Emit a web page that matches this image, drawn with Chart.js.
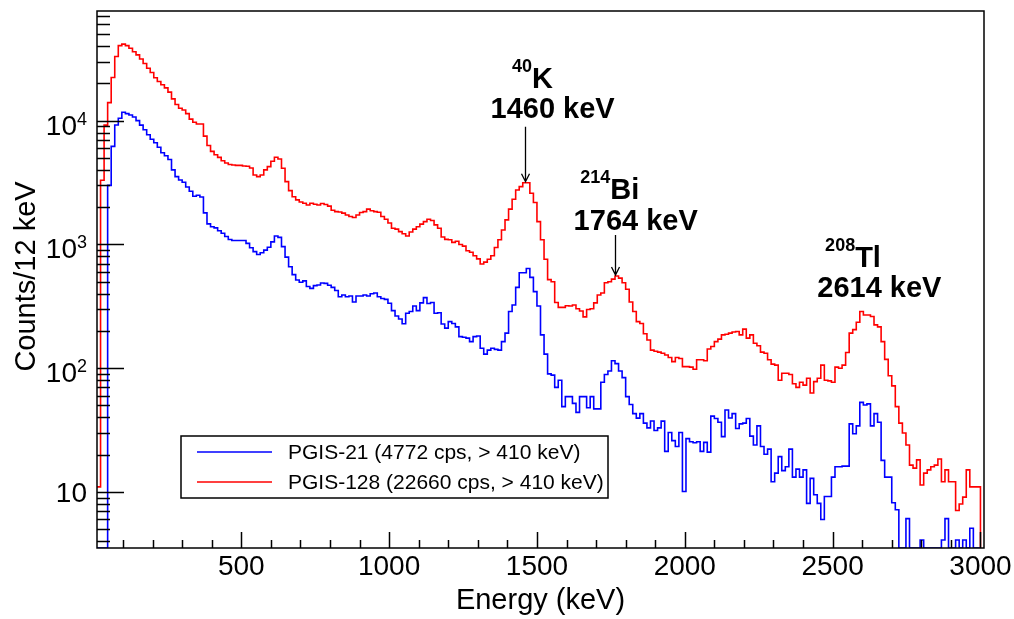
<!DOCTYPE html>
<html>
<head>
<meta charset="utf-8">
<title>PGIS gamma spectra</title>
<script src="https://cdn.jsdelivr.net/npm/chart.js@4.4.0/dist/chart.umd.min.js"></script>
<style>
  html, body { margin: 0; padding: 0; background: #fff; }
  #wrap { position: relative; width: 1014px; height: 619px; }
</style>
</head>
<body>
<div id="wrap"><canvas id="spectrum"></canvas></div>
<script>
// histogram binning (keV)
const binStart = 12;
const binWidth = 12;

// counts per 12 keV bin, PGIS-21 (blue)
const pgis21 = [
  0, 0, 0, 3000, 6200, 9230, 10450, 11700, 11400, 11100,
  10700, 10000, 9200, 8450, 7700, 7080, 6640, 6100, 5500, 5200,
  4850, 4000, 3530, 3320, 3180, 2910, 2690, 2450, 2500, 2420,
  1800, 1465, 1390, 1360, 1290, 1230, 1160, 1095, 1075, 1075,
  1075, 1075, 1020, 940, 875, 830, 858, 900, 950, 1050,
  1170, 1140, 960, 790, 660, 570, 516, 495, 508, 458,
  442, 465, 470, 488, 485, 468, 450, 425, 378, 391,
  378, 383, 343, 383, 383, 391, 383, 400, 405, 378,
  366, 360, 335, 292, 264, 250, 229, 278, 287, 318,
  292, 337, 372, 333, 340, 278, 281, 228, 211, 238,
  230, 216, 180, 178, 175, 164, 180, 182, 145, 130,
  140, 145, 142, 140, 164, 192, 287, 324, 450, 590,
  590, 640, 542, 416, 318, 186, 130, 90, 88, 70,
  80, 49, 59, 59, 52, 44, 59, 59, 48, 59,
  47, 47, 77, 89, 95, 115, 109, 95, 84, 59,
  51, 43, 39.5, 43, 36, 33, 37.5, 31.4, 33, 37.4,
  21.3, 30.3, 26, 23.3, 30.3, 10.1, 27, 25.5, 25, 25.5,
  21.3, 25.2, 21, 41, 39.3, 36.6, 28, 46, 39.6, 43,
  32.6, 35.5, 36, 39.3, 28.3, 24, 34.2, 23.3, 20.2, 22.2,
  12.1, 14.2, 19.3, 14.9, 16, 22.2, 13.2, 15.3, 13.2, 15.1,
  8.1, 12.9, 9.5, 8.1, 6.0, 9.2, 9.2, 13.2, 16, 16,
  16.2, 16.2, 35.5, 29.6, 34.2, 53, 50.5, 51.5, 34.2, 43,
  36.6, 18, 13.2, 13.2, 8.2, 7.2, 0, 0, 6.1, 0,
  0, 0, 4.1, 0, 0, 0, 0, 0, 4.1, 6.1,
  0, 0, 4.1, 0, 4.1, 0, 5.1, 0, 0
];

// counts per 12 keV bin, PGIS-128 (red)
const pgis128 = [
  11, 3300, 9200, 14000, 22300, 33000, 40400, 41500, 40400, 38500,
  36000, 34000, 31500, 29000, 26500, 24500, 22200, 20700, 19500, 18400,
  17000, 15000, 13500, 12600, 12200, 11400, 10300, 9700, 9400, 9400,
  7500, 6300, 5650, 5300, 5050, 4750, 4550, 4420, 4380, 4350,
  4350, 4300, 4280, 4150, 3640, 3530, 3640, 4000, 4250, 4700,
  5060, 4900, 4130, 3220, 2720, 2430, 2290, 2200, 2150, 2085,
  2150, 2110, 2085, 2140, 2100, 2040, 1890, 1840, 1830, 1790,
  1730, 1680, 1650, 1730, 1810, 1840, 1930, 1870, 1840, 1820,
  1680, 1600, 1490, 1350, 1330, 1270, 1220, 1170, 1260, 1330,
  1390, 1460, 1530, 1600, 1560, 1440, 1350, 1150, 1100, 1090,
  1040, 1060, 1000, 970, 890, 865, 810, 765, 695, 720,
  760, 810, 945, 1090, 1310, 1580, 1930, 2320, 2750, 2930,
  3150, 3150, 2590, 2180, 1530, 1090, 760, 520, 500, 340,
  310, 310, 320, 318, 324, 302, 290, 260, 298, 302,
  337, 391, 405, 490, 500, 525, 556, 535, 490, 435,
  343, 287, 238, 230, 190, 169, 140, 137, 135, 132,
  128, 122, 113, 122, 120, 103, 103, 102, 98, 117,
  117, 115, 143, 150, 164, 172, 186, 188, 192, 196,
  198, 186, 207, 175, 186, 159, 152, 135, 132, 117,
  108, 106, 80, 91, 91, 89, 75, 70, 77, 73,
  83, 63, 78, 83, 106, 80, 79, 77, 102, 100,
  106, 134, 192, 205, 235, 287, 269, 269, 262, 224,
  216, 164, 118, 87, 72, 49, 36, 30, 24, 16.5,
  15.6, 18.2, 11.4, 14.2, 15.1, 16, 16.5, 18.5, 12.1, 15.1,
  12.1, 12.1, 7.1, 8, 9.1, 15.1, 11, 11, 11
];

const seriesLabels = ['PGIS-21 (4772 cps, > 410 keV)', 'PGIS-128 (22660 cps, > 410 keV)'];
const seriesColors = ['#0000ff', '#ff0000'];

// axes
const xRange = [12, 3012];
const yRange = [3.53, 76900];
const xMajorTicks = [500, 1000, 1500, 2000, 2500, 3000];
const xMinorStep = 100;
const yDecadeTicks = [10, 100, 1000, 10000];

// peak labels (placed in energy / counts coordinates)
const peakNotes = [
  { mass: '40', element: 'K', headE: 1485, headC: 18270, line: '1460 keV', lineE: 1553, lineC: 10457, arrowE: 1460, arrowFrom: 8950, arrowTo: 3215 },
  { mass: '214', element: 'Bi', headE: 1746, headC: 2330, line: '1764 keV', lineE: 1834, lineC: 1297, arrowE: 1764, arrowFrom: 1194, arrowTo: 567 },
  { mass: '208', element: 'Tl', headE: 2569, headC: 661, line: '2614 keV', lineE: 2658, lineC: 378.5 }
];

const FONT = '"Liberation Sans", Arial, Helvetica, sans-serif';

// build step points at lower bin edges; empty bins sit on the axis floor
function toSteps(counts) {
  const pts = counts.map((c, i) => ({ x: binStart + i * binWidth, y: c > 0 ? c : yRange[0] }));
  pts.push({ x: binStart + counts.length * binWidth, y: yRange[0] });
  return pts;
}

const rootAxes = {
  id: 'rootAxes',
  afterDraw(chart) {
    const { ctx, chartArea: a } = chart;
    const xs = chart.scales.x, ys = chart.scales.y;
    ctx.save();
    ctx.strokeStyle = '#000';
    ctx.fillStyle = '#000';

    // frame
    ctx.lineWidth = 1.5;
    ctx.strokeRect(a.left, a.top, a.right - a.left, a.bottom - a.top);

    // ticks, drawn inside the frame
    ctx.beginPath();
    for (let e = xMinorStep; e <= xRange[1]; e += xMinorStep) {
      const px = Math.round(xs.getPixelForValue(e)) + 0.5;
      const len = xMajorTicks.includes(e) ? 16 : 8;
      ctx.moveTo(px, a.bottom);
      ctx.lineTo(px, a.bottom - len);
    }
    for (let d = 1; d <= 10000; d *= 10) {
      for (let m = 1; m <= 9; m++) {
        const v = m * d;
        if (v < yRange[0] || v > yRange[1]) continue;
        const py = Math.round(ys.getPixelForValue(v)) + 0.5;
        ctx.moveTo(a.left, py);
        ctx.lineTo(a.left + (m === 1 ? 27 : 13), py);
      }
    }
    ctx.stroke();

    // x tick labels
    ctx.font = '28px ' + FONT;
    ctx.textAlign = 'center';
    ctx.textBaseline = 'alphabetic';
    xMajorTicks.forEach(e => ctx.fillText(String(e), xs.getPixelForValue(e), a.bottom + 27));

    // y tick labels, 10^n
    ctx.textAlign = 'right';
    const right = a.left - 10;
    yDecadeTicks.forEach(v => {
      const py = ys.getPixelForValue(v);
      const exp = Math.round(Math.log10(v));
      if (exp === 1) {
        ctx.font = '28px ' + FONT;
        ctx.fillText('10', right, py + 10);
      } else {
        ctx.font = '18px ' + FONT;
        const supW = ctx.measureText(String(exp)).width;
        ctx.fillText(String(exp), right, py + 4);
        ctx.font = '28px ' + FONT;
        ctx.fillText('10', right - supW, py + 14);
      }
    });

    // axis titles
    ctx.font = '29px ' + FONT;
    ctx.textAlign = 'center';
    ctx.fillText('Energy (keV)', (a.left + a.right) / 2, 609);
    ctx.save();
    ctx.translate(35, (a.top + a.bottom) / 2 - 3);
    ctx.rotate(-Math.PI / 2);
    ctx.fillText('Counts/12 keV', 0, 0);
    ctx.restore();

    // legend box
    const lg = { left: 181, top: 436, right: 608, bottom: 498 };
    ctx.fillStyle = '#fff';
    ctx.fillRect(lg.left, lg.top, lg.right - lg.left, lg.bottom - lg.top);
    ctx.lineWidth = 1.5;
    ctx.strokeStyle = '#000';
    ctx.strokeRect(lg.left, lg.top, lg.right - lg.left, lg.bottom - lg.top);
    const rowY = [452, 482];
    ctx.font = '21px ' + FONT;
    ctx.textAlign = 'left';
    ctx.textBaseline = 'middle';
    seriesLabels.forEach((lab, i) => {
      ctx.strokeStyle = seriesColors[i];
      ctx.lineWidth = 1.6;
      ctx.beginPath();
      ctx.moveTo(197, rowY[i]);
      ctx.lineTo(272, rowY[i]);
      ctx.stroke();
      ctx.fillStyle = '#000';
      ctx.fillText(lab, 288, rowY[i] + 1);
    });

    // peak annotations
    ctx.textBaseline = 'alphabetic';
    ctx.fillStyle = '#000';
    ctx.strokeStyle = '#000';
    peakNotes.forEach(n => {
      const hx = xs.getPixelForValue(n.headE);
      const hy = ys.getPixelForValue(n.headC);
      ctx.font = 'bold 18px ' + FONT;
      const wSup = ctx.measureText(n.mass).width;
      ctx.font = 'bold 29px ' + FONT;
      const wEl = ctx.measureText(n.element).width;
      const x0 = hx - (wSup + wEl) / 2;
      ctx.textAlign = 'left';
      ctx.font = 'bold 18px ' + FONT;
      ctx.fillText(n.mass, x0, hy - 16);
      ctx.font = 'bold 29px ' + FONT;
      ctx.fillText(n.element, x0 + wSup, hy);
      ctx.textAlign = 'center';
      ctx.fillText(n.line, xs.getPixelForValue(n.lineE), ys.getPixelForValue(n.lineC));

      if (n.arrowE) {
        const ax = Math.round(xs.getPixelForValue(n.arrowE)) + 0.5;
        const y0 = ys.getPixelForValue(n.arrowFrom);
        const y1 = ys.getPixelForValue(n.arrowTo);
        ctx.lineWidth = 1.3;
        ctx.beginPath();
        ctx.moveTo(ax, y0);
        ctx.lineTo(ax, y1);
        ctx.moveTo(ax - 4, y1 - 8);
        ctx.lineTo(ax, y1);
        ctx.lineTo(ax + 4, y1 - 8);
        ctx.stroke();
      }
    });
    ctx.restore();
  }
};

new Chart(document.getElementById('spectrum'), {
  type: 'line',
  data: {
    datasets: [
      {
        label: seriesLabels[0],
        data: toSteps(pgis21),
        borderColor: seriesColors[0],
        borderWidth: 1.6,
        stepped: 'before',
        pointRadius: 0,
        fill: false,
        borderJoinStyle: 'miter'
      },
      {
        label: seriesLabels[1],
        data: toSteps(pgis128),
        borderColor: seriesColors[1],
        borderWidth: 1.6,
        stepped: 'before',
        pointRadius: 0,
        fill: false,
        borderJoinStyle: 'miter'
      }
    ]
  },
  options: {
    responsive: true,
    maintainAspectRatio: false,
    animation: false,
    events: [],
    layout: { padding: { left: 97, top: 11, right: 30, bottom: 71 } },
    scales: {
      x: { type: 'linear', min: xRange[0], max: xRange[1], display: false },
      y: { type: 'logarithmic', min: yRange[0], max: yRange[1], display: false }
    },
    plugins: {
      legend: { display: false },
      tooltip: { enabled: false }
    }
  },
  plugins: [rootAxes]
});
</script>
</body>
</html>
